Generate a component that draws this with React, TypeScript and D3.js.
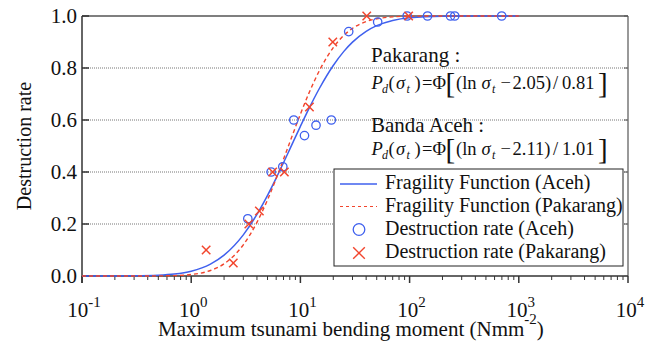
import React from "react";
import * as d3 from "d3";

const curveX = [0.1, 0.2, 0.3, 0.5, 0.7, 1, 1.5, 2, 3, 4, 5, 6, 7, 8, 10, 12, 15, 20, 25, 30, 40, 50, 70, 100, 200, 500, 1000];
const acehCurve = [0, 0.0001, 0.0005, 0.0028, 0.0073, 0.0183, 0.0457, 0.0803, 0.1583, 0.2368, 0.3101, 0.3764, 0.4355, 0.4879, 0.5756, 0.6448, 0.7231, 0.8097, 0.8639, 0.8994, 0.941, 0.9628, 0.9829, 0.9933, 0.9992, 1, 1];
const pakarangCurve = [0, 0, 0, 0.0004, 0.0015, 0.0057, 0.0212, 0.047, 0.12, 0.2063, 0.2932, 0.3749, 0.4489, 0.5145, 0.6224, 0.7043, 0.7917, 0.8785, 0.9255, 0.9523, 0.9785, 0.9892, 0.9967, 0.9992, 1, 1, 1];

const acehX = [3.3, 5.4, 6.9, 8.7, 10.9, 13.9, 19.2, 27.7, 51, 95, 146, 237, 259, 697];
const acehY = [0.22, 0.4, 0.42, 0.6, 0.54, 0.58, 0.6, 0.94, 0.977, 1, 1, 1, 1, 1];
const pakX = [1.37, 2.43, 3.37, 4.21, 5.57, 7.13, 12.1, 19.8, 40.5, 98];
const pakY = [0.1, 0.05, 0.2, 0.25, 0.4, 0.4, 0.65, 0.9, 1, 1];

const xDecades = [-1, 0, 1, 2, 3, 4];
const yTicks = [0, 0.2, 0.4, 0.6, 0.8, 1.0];
const legendLabels = [
  "Fragility Function (Aceh)",
  "Fragility Function (Pakarang)",
  "Destruction rate (Aceh)",
  "Destruction rate (Pakarang)",
];

const BLUE = "#3f60ee";
const RED = "#f2452d";

const W = 653, H = 343;
const L = 82, R = 628, T = 16, B = 276;

const CSS = `svg.chart text, svg.chart tspan { font-family: "Liberation Serif", "Times New Roman", serif; }`;

export default function App() {
  const x = d3.scaleLog().domain([0.1, 10000]).range([L, R]);
  const y = d3.scaleLinear().domain([0, 1]).range([B, T]);
  const line = d3
    .line<[number, number]>()
    .x((d) => x(d[0]))
    .y((d) => y(d[1]))
    .curve(d3.curveMonotoneX);
  const acehPath = line(curveX.map((v, i) => [v, acehCurve[i]] as [number, number])) || "";
  const pakPath = line(curveX.map((v, i) => [v, pakarangCurve[i]] as [number, number])) || "";

  const minorTicks: number[] = [];
  for (let e = -1; e < 4; e++) {
    for (let m = 2; m <= 9; m++) minorTicks.push(m * Math.pow(10, e));
  }

  const xMark = (cx: number, cy: number, s: number, key: string | number, sw = 1.5) => (
    <g key={key} stroke={RED} strokeWidth={sw} fill="none">
      <line x1={cx - s} y1={cy - s} x2={cx + s} y2={cy + s} />
      <line x1={cx - s} y1={cy + s} x2={cx + s} y2={cy - s} />
    </g>
  );

  const equation = (bx: number, by: number, a: string, b: string) => {
    const sub = 12;
    return (
      <g fontSize={18.5} fill="#111">
        <text x={bx} y={by} fontStyle="italic">P</text>
        <text x={bx + 10.5} y={by + 4} fontStyle="italic" fontSize={sub}>d</text>
        <text x={bx + 17} y={by}>(</text>
        <text x={bx + 24.5} y={by} fontStyle="italic">σ</text>
        <text x={bx + 35} y={by + 4} fontStyle="italic" fontSize={sub}>t</text>
        <text x={bx + 43} y={by}>)</text>
        <text x={bx + 50.5} y={by}>=</text>
        <text x={bx + 61} y={by}>Φ</text>
        <text x={bx + 74} y={by + 4} fontSize={29}>[</text>
        <text x={bx + 84.5} y={by}>(ln</text>
        <text x={bx + 110} y={by} fontStyle="italic">σ</text>
        <text x={bx + 120.5} y={by + 4} fontStyle="italic" fontSize={sub}>t</text>
        <text x={bx + 129} y={by}>−</text>
        <text x={bx + 141} y={by}>{a})</text>
        <text x={bx + 181.5} y={by}>/</text>
        <text x={bx + 190.5} y={by}>{b}</text>
        <text x={bx + 226.5} y={by + 4} fontSize={29}>]</text>
      </g>
    );
  };

  const legY = [184, 206.5, 229.5, 253];

  return (
    <svg
      className="chart"
      width={W}
      height={H}
      fontFamily="Liberation Serif"
      style={{ position: "absolute", left: 0, top: 0, background: "#fff", fontFamily: '"Liberation Serif"' }}
    >
      <style>{CSS}</style>
      {/* grid */}
      {yTicks.filter((t) => t > 0 && t < 1).map((t) => (
        <line key={"g" + t} x1={L} x2={R} y1={y(t)} y2={y(t)} stroke="#777" strokeWidth={1} strokeDasharray="1,1" />
      ))}

      {/* frame */}
      <line x1={L} x2={R} y1={T} y2={T} stroke="#555" strokeWidth={1.5} />
      <line x1={R} x2={R} y1={T} y2={B} stroke="#555" strokeWidth={1.2} />
      <line x1={L} x2={R} y1={B} y2={B} stroke="#333" strokeWidth={1.5} />
      <line x1={L} x2={L} y1={T} y2={B + 7} stroke="#333" strokeWidth={1.5} />

      {/* y ticks */}
      {yTicks.map((t) => (
        <g key={"yt" + t}>
          <line x1={L} x2={L + 7} y1={y(t)} y2={y(t)} stroke="#333" strokeWidth={1.5} />
          <line x1={R - 4} x2={R} y1={y(t)} y2={y(t)} stroke="#555" strokeWidth={1} />
          <text x={77} y={y(t) + 7} textAnchor="end" fontSize={21} fill="#111">
            {t.toFixed(1)}
          </text>
        </g>
      ))}

      {/* x ticks */}
      {minorTicks.map((t, i) => (
        <line key={"mt" + i} x1={x(t)} x2={x(t)} y1={B} y2={B + 4} stroke="#333" strokeWidth={1} />
      ))}
      {xDecades.map((e) => (
        <g key={"xd" + e}>
          <line x1={x(Math.pow(10, e))} x2={x(Math.pow(10, e))} y1={B} y2={B + 7} stroke="#333" strokeWidth={1.5} />
          <text x={x(Math.pow(10, e)) + 2} y={316.5} textAnchor="middle" fontSize={21} fill="#111">
            10
            <tspan dy={-10} fontSize={15}>{e}</tspan>
          </text>
        </g>
      ))}

      {/* axis titles */}
      <text
        transform={`translate(31,${(T + B) / 2}) rotate(-90)`}
        textAnchor="middle"
        fontSize={20}
        fill="#111"
      >
        Destruction rate
      </text>
      <text x={158} y={336} fontSize={21} fill="#111">
        Maximum tsunami bending moment (Nmm
        <tspan dy={-12} fontSize={15}>-2</tspan>
        <tspan dy={12}>)</tspan>
      </text>

      {/* curves */}
      <path d={acehPath} fill="none" stroke={BLUE} strokeWidth={1.5} />
      <path d={pakPath} fill="none" stroke={RED} strokeWidth={1.4} strokeDasharray="4,3" />

      {/* points */}
      {acehX.map((v, i) => (
        <circle key={"c" + i} cx={x(v)} cy={y(acehY[i])} r={4.2} fill="none" stroke={BLUE} strokeWidth={1.3} />
      ))}
      {pakX.map((v, i) => xMark(x(v), y(pakY[i]), 4.2, "p" + i))}

      {/* equations */}
      <text x={371} y={62} fontSize={21} fill="#111">Pakarang :</text>
      {equation(371.5, 89, "2.05", "0.81")}
      <text x={371} y={132} fontSize={21} fill="#111">Banda Aceh :</text>
      {equation(371.5, 155, "2.11", "1.01")}

      {/* legend */}
      <rect x={334} y={169} width={289} height={97} fill="#fff" stroke="#222" strokeWidth={1} />
      <line x1={340} x2={377} y1={legY[0]} y2={legY[0]} stroke={BLUE} strokeWidth={1.3} />
      <line x1={340} x2={377} y1={legY[1]} y2={legY[1]} stroke={RED} strokeWidth={1.2} strokeDasharray="3,3" />
      <circle cx={359} cy={legY[2]} r={5.8} fill="none" stroke={BLUE} strokeWidth={1.3} />
      {xMark(359, legY[3], 5.8, "lx", 1.4)}
      {legendLabels.map((s, i) => (
        <text key={"l" + i} x={385} y={legY[i] + 5} fontSize={20} fill="#111">
          {s}
        </text>
      ))}
    </svg>
  );
}
